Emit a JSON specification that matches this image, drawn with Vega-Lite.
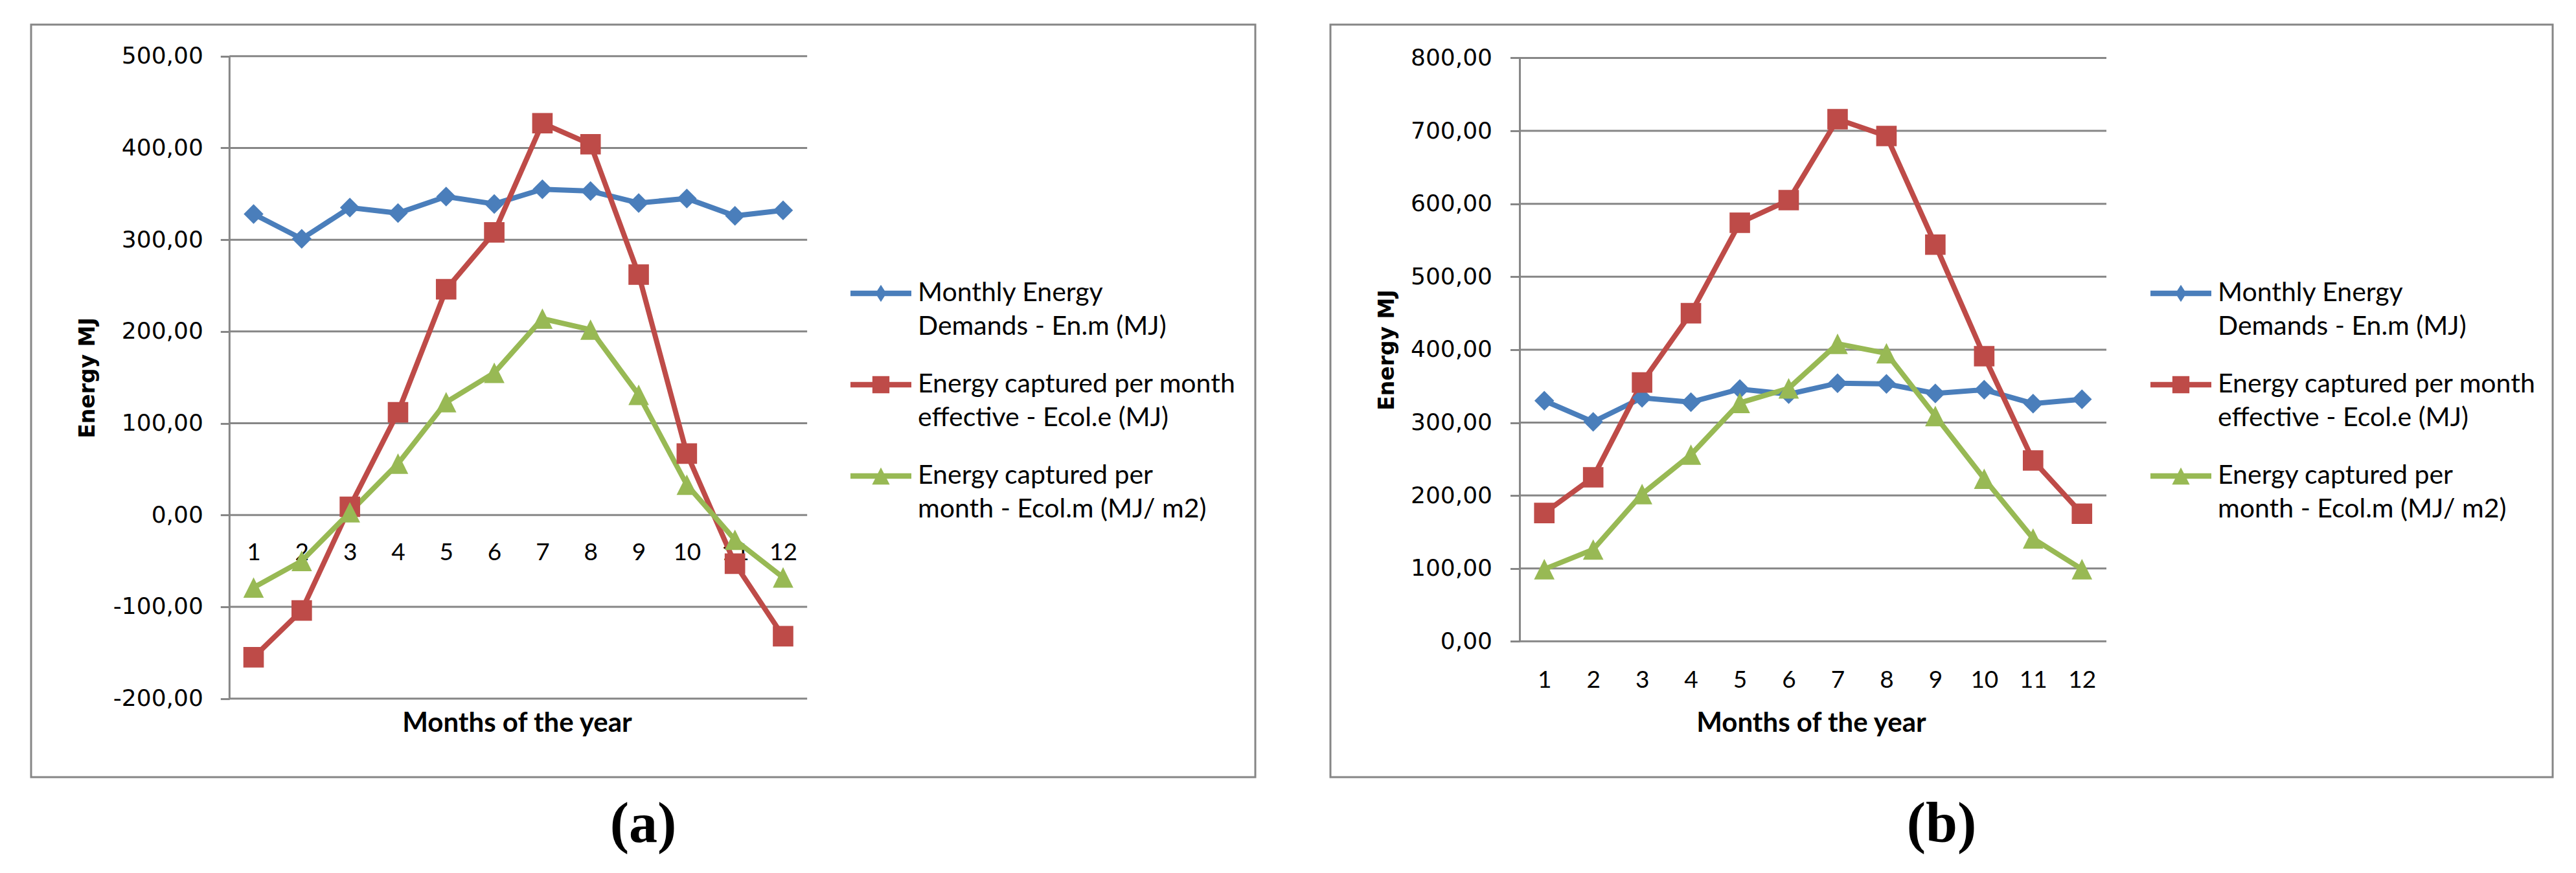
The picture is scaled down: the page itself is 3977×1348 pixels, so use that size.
{
  "$schema": "https://vega.github.io/schema/vega-lite/v6.json",
  "background": "white",
  "padding": {"left": 46, "top": 36, "right": 0, "bottom": 10},
  "spacing": 112,
  "config": {
    "view": {"stroke": "#868686", "strokeWidth": 3},
    "style": {"guide-label": {"lineHeight": 52}},
    "title": {"orient": "bottom", "anchor": "middle", "frame": "group", "font": "Liberation Serif", "fontSize": 88, "fontWeight": "bold", "color": "#000", "offset": 30}
  },
  "datasets": {
    "a": [
      {"month": 1, "series": "Monthly Energy Demands - En.m (MJ)", "value": 328},
      {"month": 2, "series": "Monthly Energy Demands - En.m (MJ)", "value": 301},
      {"month": 3, "series": "Monthly Energy Demands - En.m (MJ)", "value": 335},
      {"month": 4, "series": "Monthly Energy Demands - En.m (MJ)", "value": 329},
      {"month": 5, "series": "Monthly Energy Demands - En.m (MJ)", "value": 347},
      {"month": 6, "series": "Monthly Energy Demands - En.m (MJ)", "value": 339},
      {"month": 7, "series": "Monthly Energy Demands - En.m (MJ)", "value": 355},
      {"month": 8, "series": "Monthly Energy Demands - En.m (MJ)", "value": 353},
      {"month": 9, "series": "Monthly Energy Demands - En.m (MJ)", "value": 340},
      {"month": 10, "series": "Monthly Energy Demands - En.m (MJ)", "value": 345},
      {"month": 11, "series": "Monthly Energy Demands - En.m (MJ)", "value": 326},
      {"month": 12, "series": "Monthly Energy Demands - En.m (MJ)", "value": 332},
      {"month": 1, "series": "Energy captured per month effective - Ecol.e (MJ)", "value": -155},
      {"month": 2, "series": "Energy captured per month effective - Ecol.e (MJ)", "value": -104},
      {"month": 3, "series": "Energy captured per month effective - Ecol.e (MJ)", "value": 9},
      {"month": 4, "series": "Energy captured per month effective - Ecol.e (MJ)", "value": 112},
      {"month": 5, "series": "Energy captured per month effective - Ecol.e (MJ)", "value": 246},
      {"month": 6, "series": "Energy captured per month effective - Ecol.e (MJ)", "value": 308},
      {"month": 7, "series": "Energy captured per month effective - Ecol.e (MJ)", "value": 427},
      {"month": 8, "series": "Energy captured per month effective - Ecol.e (MJ)", "value": 404},
      {"month": 9, "series": "Energy captured per month effective - Ecol.e (MJ)", "value": 262},
      {"month": 10, "series": "Energy captured per month effective - Ecol.e (MJ)", "value": 67},
      {"month": 11, "series": "Energy captured per month effective - Ecol.e (MJ)", "value": -53},
      {"month": 12, "series": "Energy captured per month effective - Ecol.e (MJ)", "value": -132},
      {"month": 1, "series": "Energy captured per month - Ecol.m (MJ/ m2)", "value": -79},
      {"month": 2, "series": "Energy captured per month - Ecol.m (MJ/ m2)", "value": -50},
      {"month": 3, "series": "Energy captured per month - Ecol.m (MJ/ m2)", "value": 3},
      {"month": 4, "series": "Energy captured per month - Ecol.m (MJ/ m2)", "value": 56},
      {"month": 5, "series": "Energy captured per month - Ecol.m (MJ/ m2)", "value": 123},
      {"month": 6, "series": "Energy captured per month - Ecol.m (MJ/ m2)", "value": 155},
      {"month": 7, "series": "Energy captured per month - Ecol.m (MJ/ m2)", "value": 214},
      {"month": 8, "series": "Energy captured per month - Ecol.m (MJ/ m2)", "value": 202},
      {"month": 9, "series": "Energy captured per month - Ecol.m (MJ/ m2)", "value": 131},
      {"month": 10, "series": "Energy captured per month - Ecol.m (MJ/ m2)", "value": 33},
      {"month": 11, "series": "Energy captured per month - Ecol.m (MJ/ m2)", "value": -27},
      {"month": 12, "series": "Energy captured per month - Ecol.m (MJ/ m2)", "value": -68}
    ],
    "b": [
      {"month": 1, "series": "Monthly Energy Demands - En.m (MJ)", "value": 330},
      {"month": 2, "series": "Monthly Energy Demands - En.m (MJ)", "value": 301},
      {"month": 3, "series": "Monthly Energy Demands - En.m (MJ)", "value": 334},
      {"month": 4, "series": "Monthly Energy Demands - En.m (MJ)", "value": 328},
      {"month": 5, "series": "Monthly Energy Demands - En.m (MJ)", "value": 346},
      {"month": 6, "series": "Monthly Energy Demands - En.m (MJ)", "value": 339},
      {"month": 7, "series": "Monthly Energy Demands - En.m (MJ)", "value": 354},
      {"month": 8, "series": "Monthly Energy Demands - En.m (MJ)", "value": 353},
      {"month": 9, "series": "Monthly Energy Demands - En.m (MJ)", "value": 340},
      {"month": 10, "series": "Monthly Energy Demands - En.m (MJ)", "value": 345},
      {"month": 11, "series": "Monthly Energy Demands - En.m (MJ)", "value": 326},
      {"month": 12, "series": "Monthly Energy Demands - En.m (MJ)", "value": 332},
      {"month": 1, "series": "Energy captured per month effective - Ecol.e (MJ)", "value": 176},
      {"month": 2, "series": "Energy captured per month effective - Ecol.e (MJ)", "value": 225},
      {"month": 3, "series": "Energy captured per month effective - Ecol.e (MJ)", "value": 355},
      {"month": 4, "series": "Energy captured per month effective - Ecol.e (MJ)", "value": 450},
      {"month": 5, "series": "Energy captured per month effective - Ecol.e (MJ)", "value": 574},
      {"month": 6, "series": "Energy captured per month effective - Ecol.e (MJ)", "value": 605},
      {"month": 7, "series": "Energy captured per month effective - Ecol.e (MJ)", "value": 716},
      {"month": 8, "series": "Energy captured per month effective - Ecol.e (MJ)", "value": 693},
      {"month": 9, "series": "Energy captured per month effective - Ecol.e (MJ)", "value": 544},
      {"month": 10, "series": "Energy captured per month effective - Ecol.e (MJ)", "value": 391},
      {"month": 11, "series": "Energy captured per month effective - Ecol.e (MJ)", "value": 248},
      {"month": 12, "series": "Energy captured per month effective - Ecol.e (MJ)", "value": 175},
      {"month": 1, "series": "Energy captured per month - Ecol.m (MJ/ m2)", "value": 99},
      {"month": 2, "series": "Energy captured per month - Ecol.m (MJ/ m2)", "value": 126},
      {"month": 3, "series": "Energy captured per month - Ecol.m (MJ/ m2)", "value": 202},
      {"month": 4, "series": "Energy captured per month - Ecol.m (MJ/ m2)", "value": 256},
      {"month": 5, "series": "Energy captured per month - Ecol.m (MJ/ m2)", "value": 327},
      {"month": 6, "series": "Energy captured per month - Ecol.m (MJ/ m2)", "value": 347},
      {"month": 7, "series": "Energy captured per month - Ecol.m (MJ/ m2)", "value": 408},
      {"month": 8, "series": "Energy captured per month - Ecol.m (MJ/ m2)", "value": 395},
      {"month": 9, "series": "Energy captured per month - Ecol.m (MJ/ m2)", "value": 309},
      {"month": 10, "series": "Energy captured per month - Ecol.m (MJ/ m2)", "value": 223},
      {"month": 11, "series": "Energy captured per month - Ecol.m (MJ/ m2)", "value": 141},
      {"month": 12, "series": "Energy captured per month - Ecol.m (MJ/ m2)", "value": 99}
    ],
    "gridA": [{"v": -200}, {"v": -100}, {"v": 0}, {"v": 100}, {"v": 200}, {"v": 300}, {"v": 400}, {"v": 500}],
    "gridB": [{"v": 0}, {"v": 100}, {"v": 200}, {"v": 300}, {"v": 400}, {"v": 500}, {"v": 600}, {"v": 700}, {"v": 800}]
  },
  "resolve": {
    "scale": {"color": "independent", "shape": "independent"},
    "legend": {"color": "independent", "shape": "independent"}
  },
  "hconcat": [
    {
      "width": 1890,
      "height": 1162,
      "title": {"text": "(a)"},
      "layer": [
        {
          "data": {"name": "gridA"},
          "mark": {"type": "rule", "color": "#868686", "strokeWidth": 3},
          "encoding": {
            "y": {
              "field": "v", "type": "quantitative",
              "scale": {"domain": [-285.6, 534.4], "nice": false, "zero": false},
              "axis": {
                "title": "Energy MJ", "values": [-200, -100, 0, 100, 200, 300, 400, 500],
                "offset": -306.3, "domain": false, "grid": false,
                "ticks": true, "tickSize": 14, "tickColor": "#868686", "tickWidth": 3,
                "labelExpr": "(datum.value < 0 ? '-' : '') + replace(format(abs(datum.value), '.2f'), '.', ',')",
                "labelFont": "DejaVu Sans", "labelFontSize": 36, "labelColor": "#000", "labelPadding": 27,
                "labelOverlap": false,
                "titleFont": "DejaVu Sans", "titleFontSize": 33, "titleFontWeight": "bold", "titleColor": "#000",
                "titleX": -202, "titleY": 545, "titleAngle": -90, "titleBaseline": "bottom", "titleAlign": "center"
              }
            },
            "x": {
              "datum": 0.5, "type": "quantitative",
              "scale": {"domain": [-3.6225, 21.81], "nice": false, "zero": false},
              "axis": {
                "title": "Months of the year", "values": [1, 2, 3, 4, 5, 6, 7, 8, 9, 10, 11, 12], "format": "d",
                "offset": -405.7, "domain": false, "ticks": false, "tickSize": 0, "grid": false,
                "labelFont": "Lato", "labelFontSize": 37, "labelColor": "#000", "labelBaseline": "middle",
                "labelPadding": 59, "labelFlush": false, "labelOverlap": false,
                "titleFont": "Lato", "titleFontSize": 42, "titleFontWeight": "bold", "titleColor": "#000",
                "titleX": 750, "titleY": 334.7, "titleBaseline": "alphabetic", "titleAlign": "center"
              }
            },
            "x2": {"datum": 12.5}
          }
        },
        {
          "data": {"values": [{}]},
          "mark": {"type": "rule", "color": "#868686", "strokeWidth": 3},
          "encoding": {
            "x": {"datum": 0.5, "type": "quantitative"},
            "y": {"datum": -200, "type": "quantitative"},
            "y2": {"datum": 500}
          }
        },
        {
          "data": {"name": "a"},
          "mark": {"type": "line", "strokeWidth": 8},
          "encoding": {
            "x": {"field": "month", "type": "quantitative"},
            "y": {"field": "value", "type": "quantitative"},
            "color": {
              "field": "series", "type": "nominal",
              "scale": {"domain": ["Monthly Energy Demands - En.m (MJ)", "Energy captured per month effective - Ecol.e (MJ)", "Energy captured per month - Ecol.m (MJ/ m2)"], "range": ["#4A7EBB", "#BE4B48", "#98B954"]}
            }
          }
        },
        {
          "data": {"name": "a"},
          "transform": [{"filter": "datum.series == 'Monthly Energy Demands - En.m (MJ)'"}],
          "mark": {"type": "point", "filled": true, "opacity": 1, "size": 930, "strokeWidth": 0, "shape": "M0,-1L1,0L0,1L-1,0Z"},
          "encoding": {
            "x": {"field": "month", "type": "quantitative"},
            "y": {"field": "value", "type": "quantitative"},
            "color": {"field": "series", "type": "nominal"}
          }
        },
        {
          "data": {"name": "a"},
          "transform": [{"filter": "datum.series == 'Energy captured per month effective - Ecol.e (MJ)'"}],
          "mark": {"type": "point", "filled": true, "opacity": 1, "size": 1000, "strokeWidth": 0, "shape": "M-1,-1H1V1H-1Z"},
          "encoding": {
            "x": {"field": "month", "type": "quantitative"},
            "y": {"field": "value", "type": "quantitative"},
            "color": {"field": "series", "type": "nominal"}
          }
        },
        {
          "data": {"name": "a"},
          "transform": [{"filter": "datum.series == 'Energy captured per month - Ecol.m (MJ/ m2)'"}],
          "mark": {"type": "point", "filled": true, "opacity": 1, "size": 1000, "strokeWidth": 0, "shape": "M0,-1L1,1L-1,1Z"},
          "encoding": {
            "x": {"field": "month", "type": "quantitative"},
            "y": {"field": "value", "type": "quantitative"},
            "color": {"field": "series", "type": "nominal"}
          }
        },
        {
          "data": {"name": "a"},
          "transform": [{"filter": "datum.month > 100"}],
          "mark": {"type": "point", "filled": true, "opacity": 1, "size": 8836, "strokeWidth": 0},
          "encoding": {
            "x": {"field": "month", "type": "quantitative"},
            "y": {"field": "value", "type": "quantitative"},
            "color": {
              "field": "series", "type": "nominal",
              "legend": {
                "orient": "none", "legendX": 1265, "legendY": 368, "title": null, "padding": 0,
                "direction": "vertical",
                "symbolSize": 8836, "symbolStrokeWidth": 0, "symbolOpacity": 1,
                "labelFont": "Lato", "labelFontSize": 41, "labelColor": "#000", "labelLimit": 2000, "labelOffset": 10,
                "rowPadding": 22,
                "labelExpr": "datum.label == 'Monthly Energy Demands - En.m (MJ)' ? ['Monthly Energy', 'Demands - En.m (MJ)'] : datum.label == 'Energy captured per month effective - Ecol.e (MJ)' ? ['Energy captured per month', 'effective - Ecol.e (MJ)'] : ['Energy captured per', 'month - Ecol.m (MJ/ m2)']",
                "encode": {
                  "labels": {"update": {"lineHeight": {"value": 52}}}
                }
              }
            },
            "shape": {
              "field": "series", "type": "nominal",
              "scale": {"domain": ["Monthly Energy Demands - En.m (MJ)", "Energy captured per month effective - Ecol.e (MJ)", "Energy captured per month - Ecol.m (MJ/ m2)"], "range": ["M-1,-0.09H1V0.09H-1Z M0,-0.28L0.18,0L0,0.28L-0.18,0Z", "M-1,-0.09H1V0.09H-1Z M-0.28,-0.28H0.28V0.28H-0.28Z", "M-1,-0.09H1V0.09H-1Z M0,-0.28L0.29,0.28H-0.29Z"]}
            }
          }
        }
      ]
    },
    {
      "width": 1887,
      "height": 1162,
      "title": {"text": "(b)"},
      "layer": [
        {
          "data": {"name": "gridB"},
          "mark": {"type": "rule", "color": "#868686", "strokeWidth": 3},
          "encoding": {
            "y": {
              "field": "v", "type": "quantitative",
              "scale": {"domain": [-186.2, 845.7], "nice": false, "zero": false},
              "axis": {
                "title": "Energy MJ", "values": [0, 100, 200, 300, 400, 500, 600, 700, 800],
                "offset": -292.5, "domain": false, "grid": false,
                "ticks": true, "tickSize": 15, "tickColor": "#868686", "tickWidth": 3,
                "labelExpr": "(datum.value < 0 ? '-' : '') + replace(format(abs(datum.value), '.2f'), '.', ',')",
                "labelFont": "DejaVu Sans", "labelFontSize": 36, "labelColor": "#000", "labelPadding": 28,
                "labelOverlap": false,
                "titleFont": "DejaVu Sans", "titleFontSize": 33, "titleFontWeight": "bold", "titleColor": "#000",
                "titleX": -188, "titleY": 502, "titleAngle": -90, "titleBaseline": "bottom", "titleAlign": "center"
              }
            },
            "x": {
              "datum": 0.5, "type": "quantitative",
              "scale": {"domain": [-3.376, 21.631], "nice": false, "zero": false},
              "axis": {
                "title": "Months of the year", "values": [1, 2, 3, 4, 5, 6, 7, 8, 9, 10, 11, 12], "format": "d",
                "offset": -209.7, "domain": false, "ticks": false, "tickSize": 0, "grid": false,
                "labelFont": "Lato", "labelFontSize": 37, "labelColor": "#000", "labelBaseline": "middle",
                "labelPadding": 60, "labelFlush": false, "labelOverlap": false,
                "titleFont": "Lato", "titleFontSize": 42, "titleFontWeight": "bold", "titleColor": "#000",
                "titleX": 742, "titleY": 138.7, "titleBaseline": "alphabetic", "titleAlign": "center"
              }
            },
            "x2": {"datum": 12.5}
          }
        },
        {
          "data": {"values": [{}]},
          "mark": {"type": "rule", "color": "#868686", "strokeWidth": 3},
          "encoding": {
            "x": {"datum": 0.5, "type": "quantitative"},
            "y": {"datum": 0, "type": "quantitative"},
            "y2": {"datum": 800}
          }
        },
        {
          "data": {"name": "b"},
          "mark": {"type": "line", "strokeWidth": 8},
          "encoding": {
            "x": {"field": "month", "type": "quantitative"},
            "y": {"field": "value", "type": "quantitative"},
            "color": {
              "field": "series", "type": "nominal",
              "scale": {"domain": ["Monthly Energy Demands - En.m (MJ)", "Energy captured per month effective - Ecol.e (MJ)", "Energy captured per month - Ecol.m (MJ/ m2)"], "range": ["#4A7EBB", "#BE4B48", "#98B954"]}
            }
          }
        },
        {
          "data": {"name": "b"},
          "transform": [{"filter": "datum.series == 'Monthly Energy Demands - En.m (MJ)'"}],
          "mark": {"type": "point", "filled": true, "opacity": 1, "size": 930, "strokeWidth": 0, "shape": "M0,-1L1,0L0,1L-1,0Z"},
          "encoding": {
            "x": {"field": "month", "type": "quantitative"},
            "y": {"field": "value", "type": "quantitative"},
            "color": {"field": "series", "type": "nominal"}
          }
        },
        {
          "data": {"name": "b"},
          "transform": [{"filter": "datum.series == 'Energy captured per month effective - Ecol.e (MJ)'"}],
          "mark": {"type": "point", "filled": true, "opacity": 1, "size": 1000, "strokeWidth": 0, "shape": "M-1,-1H1V1H-1Z"},
          "encoding": {
            "x": {"field": "month", "type": "quantitative"},
            "y": {"field": "value", "type": "quantitative"},
            "color": {"field": "series", "type": "nominal"}
          }
        },
        {
          "data": {"name": "b"},
          "transform": [{"filter": "datum.series == 'Energy captured per month - Ecol.m (MJ/ m2)'"}],
          "mark": {"type": "point", "filled": true, "opacity": 1, "size": 1000, "strokeWidth": 0, "shape": "M0,-1L1,1L-1,1Z"},
          "encoding": {
            "x": {"field": "month", "type": "quantitative"},
            "y": {"field": "value", "type": "quantitative"},
            "color": {"field": "series", "type": "nominal"}
          }
        },
        {
          "data": {"name": "b"},
          "transform": [{"filter": "datum.month > 100"}],
          "mark": {"type": "point", "filled": true, "opacity": 1, "size": 8836, "strokeWidth": 0},
          "encoding": {
            "x": {"field": "month", "type": "quantitative"},
            "y": {"field": "value", "type": "quantitative"},
            "color": {
              "field": "series", "type": "nominal",
              "legend": {
                "orient": "none", "legendX": 1266, "legendY": 368, "title": null, "padding": 0,
                "direction": "vertical",
                "symbolSize": 8836, "symbolStrokeWidth": 0, "symbolOpacity": 1,
                "labelFont": "Lato", "labelFontSize": 41, "labelColor": "#000", "labelLimit": 2000, "labelOffset": 10,
                "rowPadding": 22,
                "labelExpr": "datum.label == 'Monthly Energy Demands - En.m (MJ)' ? ['Monthly Energy', 'Demands - En.m (MJ)'] : datum.label == 'Energy captured per month effective - Ecol.e (MJ)' ? ['Energy captured per month', 'effective - Ecol.e (MJ)'] : ['Energy captured per', 'month - Ecol.m (MJ/ m2)']",
                "encode": {
                  "labels": {"update": {"lineHeight": {"value": 52}}}
                }
              }
            },
            "shape": {
              "field": "series", "type": "nominal",
              "scale": {"domain": ["Monthly Energy Demands - En.m (MJ)", "Energy captured per month effective - Ecol.e (MJ)", "Energy captured per month - Ecol.m (MJ/ m2)"], "range": ["M-1,-0.09H1V0.09H-1Z M0,-0.28L0.18,0L0,0.28L-0.18,0Z", "M-1,-0.09H1V0.09H-1Z M-0.28,-0.28H0.28V0.28H-0.28Z", "M-1,-0.09H1V0.09H-1Z M0,-0.28L0.29,0.28H-0.29Z"]}
            }
          }
        }
      ]
    }
  ]
}
